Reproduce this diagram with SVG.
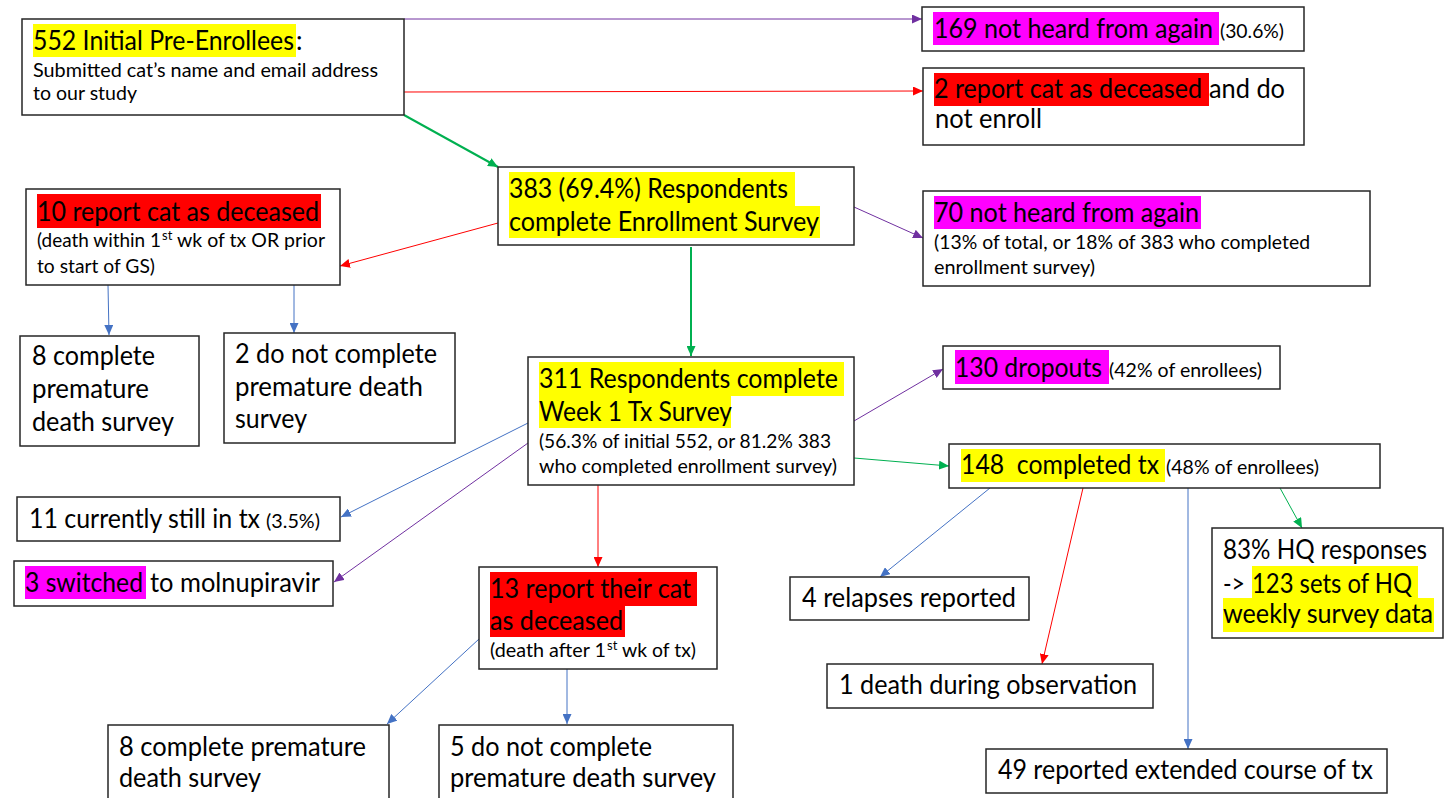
<svg xmlns="http://www.w3.org/2000/svg" width="1444" height="798" viewBox="0 0 1444 798">
<style>
.box{fill:#fff;stroke:#262626;stroke-width:1.5}
.hy{fill:#FFFF00}.hm{fill:#FF00FF}.hr{fill:#FF0000}
text{font-family:Lato,"Open Sans","Liberation Sans",sans-serif;fill:#000}
.b{font-size:26px}.s{font-size:20px}.sup{font-size:13px}
.c{fill:none;stroke-width:1}
.cp{stroke:#7030A0}.cr{stroke:#FF0000}.cg{stroke:#00B050}.cb{stroke:#4472C4}
.thick{stroke-width:2}
</style>
<defs>
<marker id="ap" markerUnits="userSpaceOnUse" markerWidth="11" markerHeight="9" refX="10" refY="4.5" orient="auto"><path d="M0,0 L10,4.5 L0,9 z" fill="#7030A0"/></marker>
<marker id="ar" markerUnits="userSpaceOnUse" markerWidth="11" markerHeight="9" refX="10" refY="4.5" orient="auto"><path d="M0,0 L10,4.5 L0,9 z" fill="#FF0000"/></marker>
<marker id="ag" markerUnits="userSpaceOnUse" markerWidth="11" markerHeight="9" refX="10" refY="4.5" orient="auto"><path d="M0,0 L10,4.5 L0,9 z" fill="#00B050"/></marker>
<marker id="ab" markerUnits="userSpaceOnUse" markerWidth="11" markerHeight="9" refX="10" refY="4.5" orient="auto"><path d="M0,0 L10,4.5 L0,9 z" fill="#4472C4"/></marker>
</defs>
<rect width="1444" height="798" fill="#fff"/>

<g id="connectors">
<line class="c cp" x1="404" y1="19" x2="922" y2="19" marker-end="url(#ap)"/>
<line class="c cr" x1="404" y1="92" x2="923" y2="91" marker-end="url(#ar)"/>
<line class="c cg thick" x1="404" y1="115" x2="498" y2="167" marker-end="url(#ag)"/>
<line class="c cr" x1="498" y1="223" x2="340" y2="266" marker-end="url(#ar)"/>
<line class="c cb" x1="108" y1="285" x2="109" y2="335" marker-end="url(#ab)"/>
<line class="c cb" x1="294" y1="285" x2="294" y2="333" marker-end="url(#ab)"/>
<line class="c cp" x1="854" y1="207" x2="923" y2="238" marker-end="url(#ap)"/>
<line class="c cg thick" x1="691" y1="247" x2="691" y2="356" marker-end="url(#ag)"/>
<line class="c cp" x1="854" y1="421" x2="943" y2="369" marker-end="url(#ap)"/>
<line class="c cg" x1="854" y1="458" x2="949" y2="466" marker-end="url(#ag)"/>
<line class="c cb" x1="528" y1="423" x2="341" y2="517" marker-end="url(#ab)"/>
<line class="c cp" x1="528" y1="443" x2="334" y2="582" marker-end="url(#ap)"/>
<line class="c cr" x1="598" y1="485" x2="598" y2="567" marker-end="url(#ar)"/>
<line class="c cb" x1="479" y1="639" x2="387" y2="724" marker-end="url(#ab)"/>
<line class="c cb" x1="567" y1="669" x2="567" y2="724" marker-end="url(#ab)"/>
<line class="c cb" x1="990" y1="488" x2="880" y2="577" marker-end="url(#ab)"/>
<line class="c cr" x1="1083" y1="488" x2="1042" y2="664" marker-end="url(#ar)"/>
<line class="c cb" x1="1188" y1="488" x2="1188" y2="749" marker-end="url(#ab)"/>
<line class="c cg" x1="1280" y1="488" x2="1302" y2="528" marker-end="url(#ag)"/>
</g>

<g id="n-initial">
<rect class="box" x="22" y="19" width="382" height="96"/>
<rect class="hy" x="33" y="24" width="263" height="33"/>
<text class="b" x="33" y="50"><tspan textLength="261" lengthAdjust="spacingAndGlyphs">552 Initial Pre-Enrollees</tspan><tspan x="296">:</tspan></text>
<text class="s" x="33" y="77" textLength="345" lengthAdjust="spacingAndGlyphs">Submitted cat’s name and email address</text>
<text class="s" x="33" y="100" textLength="104" lengthAdjust="spacingAndGlyphs">to our study</text>
</g>

<g id="n-169">
<rect class="box" x="922" y="7" width="382" height="44"/>
<rect class="hm" x="933" y="12" width="286" height="33"/>
<text class="b" x="934" y="38" textLength="279" lengthAdjust="spacingAndGlyphs">169 not heard from again</text>
<text class="s" x="1220" y="38" textLength="64" lengthAdjust="spacingAndGlyphs">(30.6%)</text>
</g>

<g id="n-2report">
<rect class="box" x="923" y="68" width="381" height="77"/>
<rect class="hr" x="934" y="73" width="275" height="33"/>
<text class="b" x="934" y="98" textLength="268" lengthAdjust="spacingAndGlyphs">2 report cat as deceased</text>
<text class="b" x="1209" y="98" textLength="76" lengthAdjust="spacingAndGlyphs">and do</text>
<text class="b" x="935" y="128" textLength="107" lengthAdjust="spacingAndGlyphs">not enroll</text>
</g>

<g id="n-383">
<rect class="box" x="498" y="167" width="356" height="78"/>
<rect class="hy" x="509" y="172" width="286" height="34"/>
<rect class="hy" x="509" y="206" width="311" height="32"/>
<text class="b" x="509" y="198" textLength="279" lengthAdjust="spacingAndGlyphs">383 (69.4%) Respondents</text>
<text class="b" x="509" y="231" textLength="310" lengthAdjust="spacingAndGlyphs">complete Enrollment Survey</text>
</g>

<g id="n-10report">
<rect class="box" x="26" y="189" width="314" height="96"/>
<rect class="hr" x="37" y="194" width="284" height="34"/>
<text class="b" x="37" y="221" textLength="282" lengthAdjust="spacingAndGlyphs">10 report cat as deceased</text>
<text class="s" x="37" y="247"><tspan textLength="124" lengthAdjust="spacingAndGlyphs">(death within 1</tspan><tspan class="sup" x="162" y="240">st</tspan><tspan x="177" y="247" textLength="148" lengthAdjust="spacingAndGlyphs">wk of tx OR prior</tspan></text>
<text class="s" x="37" y="273" textLength="118" lengthAdjust="spacingAndGlyphs">to start of GS)</text>
</g>

<g id="n-70">
<rect class="box" x="923" y="191" width="447" height="95"/>
<rect class="hm" x="934" y="196" width="267" height="33"/>
<text class="b" x="934" y="222" textLength="265" lengthAdjust="spacingAndGlyphs">70 not heard from again</text>
<text class="s" x="934" y="249" textLength="376" lengthAdjust="spacingAndGlyphs">(13% of total, or 18% of 383 who completed</text>
<text class="s" x="934" y="274" textLength="161" lengthAdjust="spacingAndGlyphs">enrollment survey)</text>
</g>

<g id="n-8complete-a">
<rect class="box" x="20" y="336" width="179" height="110"/>
<text class="b" x="32" y="365" textLength="123" lengthAdjust="spacingAndGlyphs">8 complete</text>
<text class="b" x="32" y="398" textLength="117" lengthAdjust="spacingAndGlyphs">premature</text>
<text class="b" x="32" y="431" textLength="142" lengthAdjust="spacingAndGlyphs">death survey</text>
</g>

<g id="n-2donot">
<rect class="box" x="224" y="333" width="231" height="110"/>
<text class="b" x="235" y="363" textLength="202" lengthAdjust="spacingAndGlyphs">2 do not complete</text>
<text class="b" x="235" y="396" textLength="188" lengthAdjust="spacingAndGlyphs">premature death</text>
<text class="b" x="235" y="428" textLength="72" lengthAdjust="spacingAndGlyphs">survey</text>
</g>

<g id="n-311">
<rect class="box" x="528" y="357" width="326" height="128"/>
<rect class="hy" x="539" y="362" width="305" height="34"/>
<rect class="hy" x="539" y="396" width="192" height="32"/>
<text class="b" x="539" y="388" textLength="299" lengthAdjust="spacingAndGlyphs">311 Respondents complete</text>
<text class="b" x="539" y="421" textLength="193" lengthAdjust="spacingAndGlyphs">Week 1 Tx Survey</text>
<text class="s" x="539" y="448" textLength="292" lengthAdjust="spacingAndGlyphs">(56.3% of initial 552, or 81.2% 383</text>
<text class="s" x="539" y="473" textLength="298" lengthAdjust="spacingAndGlyphs">who completed enrollment survey)</text>
</g>

<g id="n-130">
<rect class="box" x="943" y="346" width="337" height="43"/>
<rect class="hm" x="955" y="350" width="154" height="34"/>
<text class="b" x="955" y="377" textLength="147" lengthAdjust="spacingAndGlyphs">130 dropouts</text>
<text class="s" x="1109" y="377" textLength="153" lengthAdjust="spacingAndGlyphs">(42% of enrollees)</text>
</g>

<g id="n-148">
<rect class="box" x="949" y="444" width="431" height="44"/>
<rect class="hy" x="961" y="449" width="204" height="33"/>
<text class="b" x="961" y="474" textLength="198" lengthAdjust="spacingAndGlyphs" xml:space="preserve">148  completed tx</text>
<text class="s" x="1166" y="474" textLength="153" lengthAdjust="spacingAndGlyphs">(48% of enrollees)</text>
</g>

<g id="n-11">
<rect class="box" x="17" y="497" width="323" height="44"/>
<text class="b" x="29" y="528" textLength="231" lengthAdjust="spacingAndGlyphs">11 currently still in tx</text>
<text class="s" x="266" y="528" textLength="54" lengthAdjust="spacingAndGlyphs">(3.5%)</text>
</g>

<g id="n-3switched">
<rect class="box" x="14" y="561" width="319" height="45"/>
<rect class="hm" x="25" y="566" width="121" height="33"/>
<text class="b" x="25" y="592" textLength="118" lengthAdjust="spacingAndGlyphs">3 switched</text>
<text class="b" x="150" y="592" textLength="170" lengthAdjust="spacingAndGlyphs">to molnupiravir</text>
</g>

<g id="n-13report">
<rect class="box" x="479" y="567" width="238" height="102"/>
<rect class="hr" x="490" y="572" width="207" height="34"/>
<rect class="hr" x="490" y="606" width="135" height="31"/>
<text class="b" x="490" y="598" textLength="201" lengthAdjust="spacingAndGlyphs">13 report their cat</text>
<text class="b" x="490" y="630" textLength="133" lengthAdjust="spacingAndGlyphs">as deceased</text>
<text class="s" x="490" y="657"><tspan textLength="116" lengthAdjust="spacingAndGlyphs">(death after 1</tspan><tspan class="sup" x="607" y="650">st</tspan><tspan x="622" y="657" textLength="74" lengthAdjust="spacingAndGlyphs">wk of tx)</tspan></text>
</g>

<g id="n-8complete-b">
<rect class="box" x="108" y="725" width="281" height="90"/>
<text class="b" x="119" y="756" textLength="247" lengthAdjust="spacingAndGlyphs">8 complete premature</text>
<text class="b" x="119" y="787" textLength="142" lengthAdjust="spacingAndGlyphs">death survey</text>
</g>

<g id="n-5donot">
<rect class="box" x="439" y="725" width="294" height="90"/>
<text class="b" x="450" y="756" textLength="202" lengthAdjust="spacingAndGlyphs">5 do not complete</text>
<text class="b" x="450" y="787" textLength="266" lengthAdjust="spacingAndGlyphs">premature death survey</text>
</g>

<g id="n-4relapses">
<rect class="box" x="790" y="577" width="239" height="43"/>
<text class="b" x="802" y="607" textLength="214" lengthAdjust="spacingAndGlyphs">4 relapses reported</text>
</g>

<g id="n-1death">
<rect class="box" x="827" y="664" width="326" height="44"/>
<text class="b" x="839" y="694" textLength="298" lengthAdjust="spacingAndGlyphs">1 death during observation</text>
</g>

<g id="n-49">
<rect class="box" x="986" y="749" width="401" height="44"/>
<text class="b" x="998" y="779" textLength="375" lengthAdjust="spacingAndGlyphs">49 reported extended course of tx</text>
</g>

<g id="n-83hq">
<rect class="box" x="1212" y="528" width="231" height="110"/>
<rect class="hy" x="1252" y="566" width="166" height="32"/>
<rect class="hy" x="1223" y="598" width="211" height="34"/>
<text class="b" x="1223" y="559" textLength="204" lengthAdjust="spacingAndGlyphs">83% HQ responses</text>
<text class="b" x="1223" y="593"><tspan textLength="22" lengthAdjust="spacingAndGlyphs">-&gt;</tspan><tspan x="1252" textLength="160" lengthAdjust="spacingAndGlyphs">123 sets of HQ</tspan></text>
<text class="b" x="1223" y="623" textLength="210" lengthAdjust="spacingAndGlyphs">weekly survey data</text>
</g>
</svg>
